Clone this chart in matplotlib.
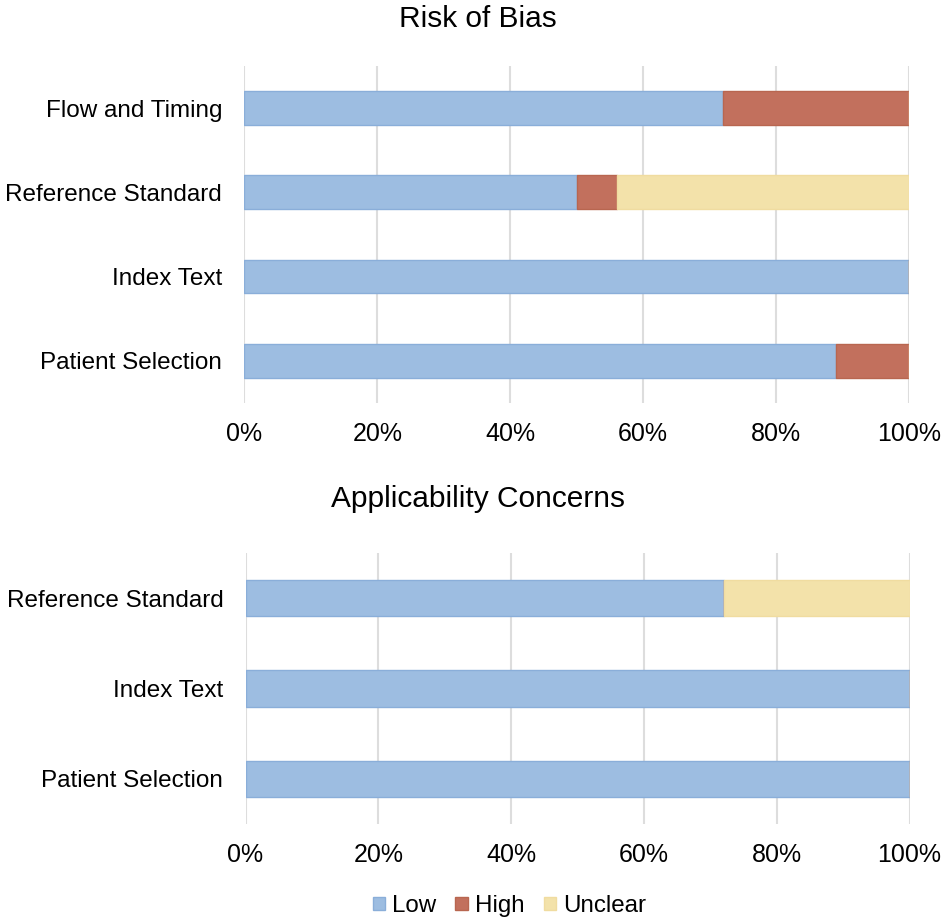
import matplotlib
matplotlib.use("Agg")
import matplotlib.pyplot as plt
from matplotlib.patches import Patch
from matplotlib.ticker import FuncFormatter

plt.rcParams['font.family'] = ['Liberation Sans', 'DejaVu Sans']

LOW_COLOR = '#9DBDE1'
LOW_EDGE = '#8AAED9'
HIGH_COLOR = '#C2705D'
HIGH_EDGE = '#B86650'
UNCLEAR_COLOR = '#F3E2AA'
UNCLEAR_EDGE = '#F0DCA0'
GRID_COLOR = '#DDDDDD'

# Risk of Bias (bottom to top)
rob_domains = ['Patient Selection', 'Index Text', 'Reference Standard', 'Flow and Timing']
rob_low = [89, 100, 50, 72]
rob_high = [11, 0, 6, 28]
rob_unclear = [0, 0, 44, 0]

# Applicability Concerns (bottom to top)
app_domains = ['Patient Selection', 'Index Text', 'Reference Standard']
app_low = [100, 100, 72]
app_high = [0, 0, 0]
app_unclear = [0, 0, 28]

x_ticks = [0, 20, 40, 60, 80, 100]


def draw_panel(ax, domains, low, high, unclear):
    ys = range(len(domains))
    left_high = [l for l in low]
    left_unc = [l + h for l, h in zip(low, high)]
    ax.barh(ys, low, height=0.4, color=LOW_COLOR, edgecolor=LOW_EDGE, linewidth=1, zorder=3)
    ax.barh(ys, high, left=left_high, height=0.4, color=HIGH_COLOR, edgecolor=HIGH_EDGE, linewidth=1, zorder=3)
    ax.barh(ys, unclear, left=left_unc, height=0.4, color=UNCLEAR_COLOR, edgecolor=UNCLEAR_EDGE, linewidth=1, zorder=3)
    ax.set_xlim(0, 100)
    ax.set_ylim(-0.5, len(domains) - 0.5)
    ax.set_yticks(list(ys))
    ax.set_yticklabels(domains, fontsize=17.5)
    ax.set_xticks(x_ticks)
    ax.xaxis.set_major_formatter(FuncFormatter(lambda v, p: f"{int(v)}%"))
    ax.tick_params(axis='x', labelsize=18, length=0, pad=14)
    ax.tick_params(axis='y', length=0, pad=16)
    for s in ax.spines.values():
        s.set_visible(False)
    ax.grid(axis='x', color=GRID_COLOR, linewidth=1.5, zorder=0)
    ax.set_axisbelow(True)


fig = plt.figure(figsize=(9.45, 9.24), dpi=100)

ax1 = fig.add_axes([0.2587, 0.5639, 0.7032, 0.3647])
draw_panel(ax1, rob_domains, rob_low, rob_high, rob_unclear)

ax2 = fig.add_axes([0.2598, 0.1082, 0.7027, 0.2933])
draw_panel(ax2, app_domains, app_low, app_high, app_unclear)

fig.text(0.5053, 0.9708, 'Risk of Bias', ha='center', va='baseline', fontsize=21.5)
fig.text(0.5063, 0.4513, 'Applicability Concerns', ha='center', va='baseline', fontsize=21.5)

handles = [Patch(facecolor=LOW_COLOR, edgecolor=LOW_EDGE, label='Low'),
           Patch(facecolor=HIGH_COLOR, edgecolor=HIGH_EDGE, label='High'),
           Patch(facecolor=UNCLEAR_COLOR, edgecolor=UNCLEAR_EDGE, label='Unclear')]
fig.legend(handles=handles, loc='center', bbox_to_anchor=(0.539, 0.0195), ncol=3,
           frameon=False, fontsize=17.4, handlelength=0.5, handleheight=0.5,
           handletextpad=0.3, columnspacing=0.8)

fig.savefig('out.png', dpi=100)
